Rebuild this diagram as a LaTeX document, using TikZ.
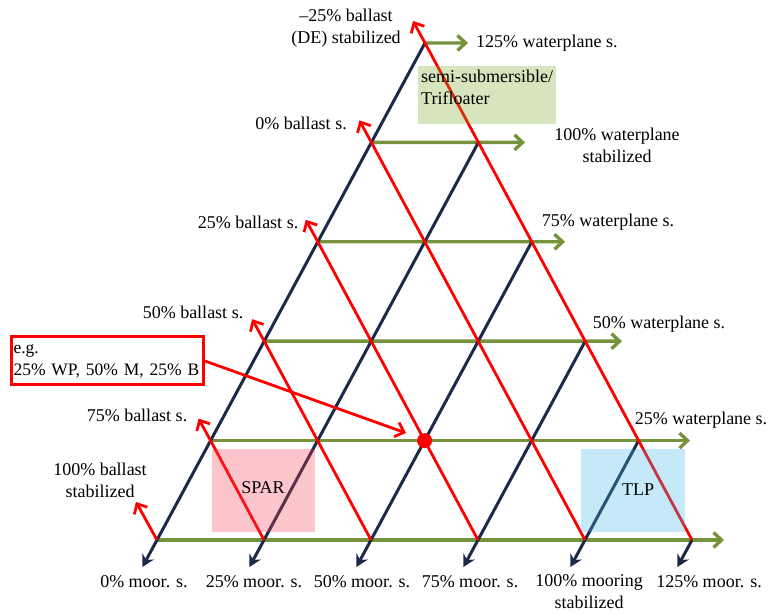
\documentclass[tikz,border=0pt]{standalone}
\usepackage{fontspec}
\setmainfont{Liberation Serif}
\usetikzlibrary{arrows.meta,calc}
\definecolor{navy}{RGB}{27,42,71}
\definecolor{myred}{RGB}{255,0,0}
\definecolor{mygreen}{RGB}{118,146,60}
\definecolor{spark}{RGB}{245,62,82}
\definecolor{tlpc}{RGB}{62,182,232}
\definecolor{semic}{RGB}{122,165,35}
\tikzset{
  navyline/.style={draw=navy,line width=3pt},
  redline/.style={draw=myred,line width=2.8pt},
  greenline/.style={draw=mygreen,line width=3.4pt},
  navytip/.style={-{Stealth[length=12pt,width=13pt,inset=4pt]}},
  redtip/.style={-{Straight Barb[length=8pt,width=15pt]}},
  greentip/.style={-{Straight Barb[length=8pt,width=15pt]}},
  lbl/.style={inner sep=0pt,align=center,font=\fontsize{18}{22}\selectfont},
  tbox/.style={fill opacity=0.3,draw=none},
}
\begin{document}
\begin{tikzpicture}[x=1pt,y=-1pt]
\path[use as bounding box] (0,0) rectangle (769,612);
% grid points
\foreach \r in {0,...,5}{
  \foreach \c in {0,...,5}{
    \coordinate (p-\r-\c) at ({157+53.6*\r+107*\c},{540-99.4*\r});
  }
}
% green line ends
\coordinate (g-0) at (724,540);
\coordinate (g-1) at (690,440.6);
\coordinate (g-2) at (622,341.2);
\coordinate (g-3) at (565,241.8);
\coordinate (g-4) at (525,142.4);
\coordinate (g-5) at (468,43);
% green lines
\foreach \r in {0,...,5}{
  \draw[greenline,greentip] (p-\r-0) -- (g-\r);
}
% navy lines
\foreach \c in {0,...,4}{
  \pgfmathtruncatemacro\t{5-\c}
  \draw[navyline] (p-0-\c) -- (p-\t-\c);
}
\foreach \c in {0,...,5}{
  \coordinate (m-\c) at ($(p-0-\c)+(-14.6,27)$);
  \draw[navyline,navytip] (p-0-\c) -- (m-\c);
}
% red lines
\foreach \r in {1,...,5}{
  \draw[redline] (p-\r-0) -- (p-0-\r);
  \coordinate (b-\r) at ($(p-\r-0)+(-12,-22)$);
  \draw[redline,redtip] (p-\r-0) -- (b-\r);
}
\coordinate (b-0) at ($(p-0-0)+(-21,-38)$);
\draw[redline,redtip] (p-0-0) -- (b-0);
% translucent boxes
\path[tbox,fill=semic] (418,66) rectangle (556,124);
\path[tbox,fill=spark] (212,449) rectangle (315,532);
\path[tbox,fill=tlpc] (581,449) rectangle (685,532);
% box texts
\node[lbl,align=left,anchor=north west] (semi) at (421,70) {semi-submersible/\\Trifloater};
\node[lbl] (spar) at (263,488) {SPAR};
\node[lbl] (tlp) at (638,490) {TLP};
% red dot
\fill[myred] (p-1-2) circle (7.5);
\node[inner sep=0pt,minimum size=15pt] (dot) at (p-1-2) {};
% example box
\node[draw=myred,line width=3pt,text width=188pt,inner xsep=2pt,minimum height=48pt,align=left,
      font=\fontsize{17.5}{22}\selectfont,anchor=west] (eg) at (10,361) {e.g.\\25\% WP, 50\% M, 25\% B};
\coordinate (egtip) at (406,433);
\draw[redline,redtip] (eg.east) -- (egtip);
% labels
\node[lbl] (l-de) at (346,28) {\textendash25\% ballast\\(DE) stabilized};
\node[lbl,anchor=west] (w125) at (476,43) {125\% waterplane s.};
\node[lbl] (b0) at (301,123) {0\% ballast s.};
\node[lbl] (w100) at (617,145) {100\% waterplane\\stabilized};
\node[lbl] (b25) at (248,222) {25\% ballast s.};
\node[lbl] (w75) at (608,222) {75\% waterplane s.};
\node[lbl] (b50) at (193,312) {50\% ballast s.};
\node[lbl] (w50) at (659,324) {50\% waterplane s.};
\node[lbl] (b75) at (137,415) {75\% ballast s.};
\node[lbl] (w25) at (701,420) {25\% waterplane s.};
\node[lbl] (b100) at (100,480) {100\% ballast\\stabilized};
\node[lbl] (m0) at (144,582) {0\% moor. s.};
\node[lbl] (m25) at (254,582) {25\% moor. s.};
\node[lbl] (m50) at (362,582) {50\% moor. s.};
\node[lbl] (m75) at (470,582) {75\% moor. s.};
\node[lbl] (m100) at (589,592) {100\% mooring\\stabilized};
\node[lbl] (m125) at (709,582) {125\% moor. s.};
\end{tikzpicture}
\end{document}
